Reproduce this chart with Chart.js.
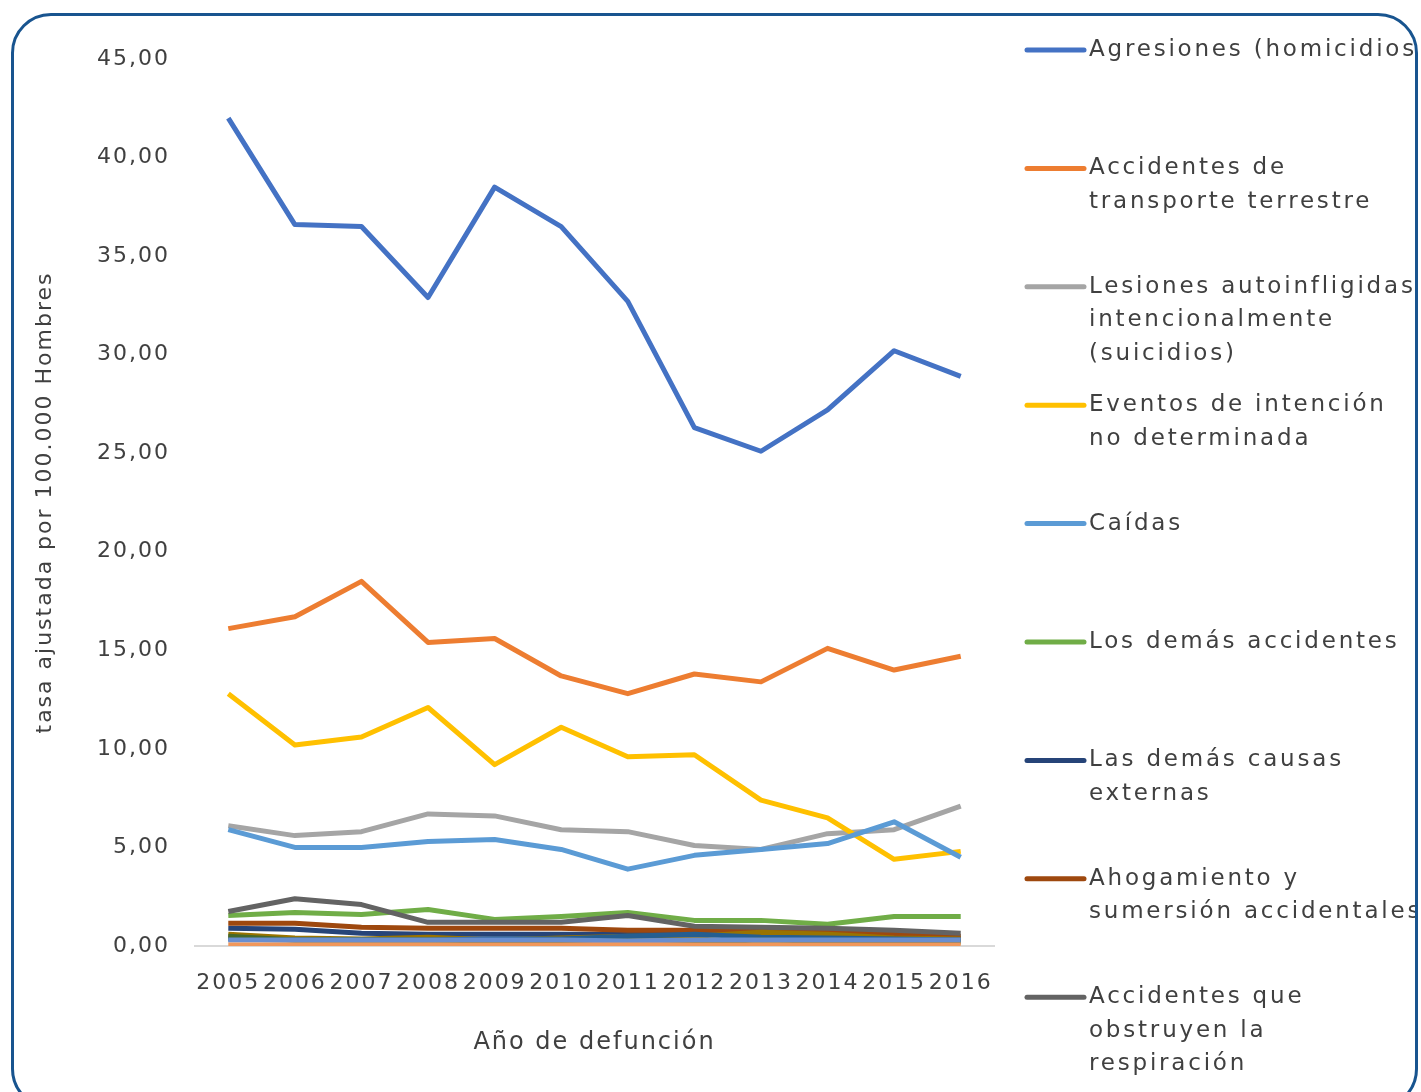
<!DOCTYPE html>
<html lang="es">
<head>
<meta charset="utf-8">
<title>Tasa ajustada de mortalidad por causas externas, hombres</title>
<script src="https://cdn.jsdelivr.net/npm/chart.js@4/dist/chart.umd.min.js"></script>
<style>
    html, body { margin: 0; padding: 0; background: #ffffff; }
    body { width: 1421px; height: 1092px; position: relative; overflow: hidden; }
    .frame {
        position: absolute; left: 11px; top: 13px; width: 1401px; height: 1090px;
        border: 3px solid #18548f; border-radius: 40px;
    }
    #chart { position: absolute; left: 0; top: 0; }
</style>
</head>
<body>
<div class="frame"></div>
<canvas id="chart" width="1421" height="1092"></canvas>
<script>
const years = ['2005', '2006', '2007', '2008', '2009', '2010', '2011', '2012', '2013', '2014', '2015', '2016'];

// tasas ajustadas por 100.000 hombres
const agresiones    = [42.0, 36.6, 36.5, 32.9, 38.5, 36.5, 32.7, 26.3, 25.1, 27.2, 30.2, 28.9];
const transporte    = [16.1, 16.7, 18.5, 15.4, 15.6, 13.7, 12.8, 13.8, 13.4, 15.1, 14.0, 14.7];
const suicidios     = [6.1, 5.6, 5.8, 6.7, 6.6, 5.9, 5.8, 5.1, 4.9, 5.7, 5.9, 7.1];
const noDeterminada = [12.8, 10.2, 10.6, 12.1, 9.2, 11.1, 9.6, 9.7, 7.4, 6.5, 4.4, 4.8];
const caidas        = [5.9, 5.0, 5.0, 5.3, 5.4, 4.9, 3.9, 4.6, 4.9, 5.2, 6.3, 4.5];
const demasAccid    = [1.55, 1.7, 1.6, 1.85, 1.35, 1.5, 1.7, 1.3, 1.3, 1.1, 1.5, 1.5];
const demasCausas   = [0.9, 0.85, 0.65, 0.6, 0.6, 0.6, 0.6, 0.7, 0.5, 0.5, 0.4, 0.4];
const ahogamiento   = [1.15, 1.15, 0.95, 0.9, 0.9, 0.9, 0.8, 0.8, 0.75, 0.7, 0.6, 0.5];
const obstruyen     = [1.75, 2.4, 2.1, 1.2, 1.2, 1.2, 1.55, 1.0, 0.95, 0.9, 0.8, 0.65];
const serie10       = [0.6, 0.4, 0.35, 0.45, 0.3, 0.4, 0.5, 0.5, 0.7, 0.6, 0.4, 0.35];
const serie11       = [0.35, 0.3, 0.3, 0.3, 0.35, 0.35, 0.5, 0.6, 0.45, 0.4, 0.35, 0.3];
const serie12       = [0.5, 0.3, 0.3, 0.3, 0.25, 0.25, 0.25, 0.2, 0.3, 0.25, 0.25, 0.2];
const serie13       = [0.3, 0.3, 0.3, 0.3, 0.3, 0.3, 0.25, 0.3, 0.3, 0.3, 0.3, 0.3];
const serie14       = [0.05, 0.05, 0.05, 0.05, 0.05, 0.05, 0.05, 0.05, 0.05, 0.05, 0.05, 0.05];

const seriesLabels = [
    ['Agresiones (homicidios)'],
    ['Accidentes de', 'transporte terrestre'],
    ['Lesiones autoinfligidas', 'intencionalmente', '(suicidios)'],
    ['Eventos de intención', 'no determinada'],
    ['Caídas'],
    ['Los demás accidentes'],
    ['Las demás causas', 'externas'],
    ['Ahogamiento y', 'sumersión accidentales'],
    ['Accidentes que', 'obstruyen la', 'respiración'],
    ['Serie 10'], ['Serie 11'], ['Serie 12'], ['Serie 13'], ['Serie 14']
];
const seriesData = [agresiones, transporte, suicidios, noDeterminada, caidas, demasAccid,
    demasCausas, ahogamiento, obstruyen, serie10, serie11, serie12, serie13, serie14];
const seriesColors = ['#4472C4', '#ED7D31', '#A5A5A5', '#FFC000', '#5B9BD5', '#70AD47',
    '#264478', '#9E480E', '#636363', '#997300', '#255E91', '#43682B', '#698ED0', '#F1975A'];
const legendCount = 9;

const FONT = 'DejaVu Sans';
const TEXT = '#404040';

// wide, loosely spaced lettering for axis text
const letterSpacing = {
    id: 'letterSpacing',
    beforeDraw(chart) {
        chart.ctx.letterSpacing = '2px';
    }
};

// legend at the right, wrapped over several lines, clipped by the frame
const sideLegend = {
    id: 'sideLegend',
    afterDraw(chart) {
        const ctx = chart.ctx;
        ctx.save();
        ctx.beginPath();
        ctx.rect(0, 0, 1415, chart.height);
        ctx.clip();
        ctx.font = `23px "${FONT}"`;
        ctx.letterSpacing = '2.8px';
        ctx.fillStyle = TEXT;
        ctx.textBaseline = 'middle';
        ctx.textAlign = 'left';
        chart.data.datasets.slice(0, legendCount).forEach((ds, i) => {
            const y = 50 + i * 118.4;
            ctx.strokeStyle = ds.borderColor;
            ctx.lineWidth = 5;
            ctx.lineCap = 'round';
            ctx.beginPath();
            ctx.moveTo(1027, y);
            ctx.lineTo(1084, y);
            ctx.stroke();
            ds.label.forEach((line, j) => ctx.fillText(line, 1089, y + j * 33.5));
        });
        ctx.restore();
    }
};

new Chart(document.getElementById('chart'), {
    type: 'line',
    data: {
        labels: years,
        datasets: seriesData.map((values, i) => ({
            label: seriesLabels[i],
            data: values,
            borderColor: seriesColors[i],
            backgroundColor: seriesColors[i],
            borderWidth: 5,
            pointRadius: 0,
            tension: 0,
            borderJoinStyle: 'round',
            order: -i
        }))
    },
    options: {
        responsive: false,
        animation: false,
        layout: { padding: { left: 0, right: 427, top: 59, bottom: 0 } },
        plugins: {
            legend: { display: false },
            tooltip: { enabled: false }
        },
        scales: {
            x: {
                offset: true,
                grid: { display: false, drawTicks: false },
                border: { display: true, color: '#d9d9d9', width: 2 },
                ticks: { color: TEXT, font: { family: FONT, size: 22 }, padding: 24, maxRotation: 0, autoSkip: false },
                title: {
                    display: true, text: 'Año de defunción', color: TEXT,
                    font: { family: FONT, size: 24 }, padding: { top: 0, bottom: 35 }
                },
                afterFit(scale) { scale.height = 146; }
            },
            y: {
                min: 0,
                max: 45,
                grid: { display: false, drawTicks: false },
                border: { display: false },
                ticks: {
                    stepSize: 5, color: TEXT, font: { family: FONT, size: 22 }, padding: 25,
                    callback: v => v.toFixed(2).replace('.', ',')
                },
                title: {
                    display: true, text: 'tasa ajustada por 100.000 Hombres', color: TEXT,
                    font: { family: FONT, size: 22 }, padding: { top: 32, bottom: 0 }
                },
                afterFit(scale) { scale.width = 195; }
            }
        }
    },
    plugins: [letterSpacing, sideLegend]
});
</script>
</body>
</html>
